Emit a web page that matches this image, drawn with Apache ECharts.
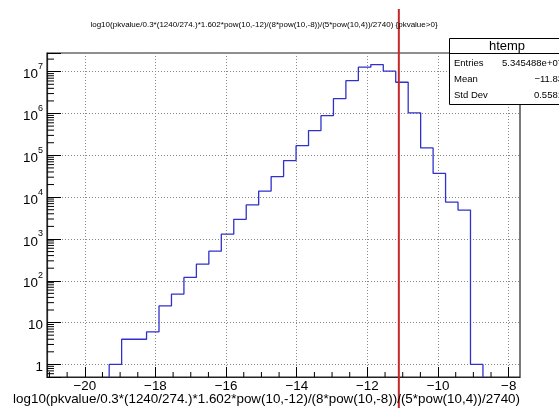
<!DOCTYPE html>
<html><head><meta charset="utf-8">
<script src="https://cdn.jsdelivr.net/npm/echarts@6/dist/echarts.min.js"></script>
<style>html,body{margin:0;padding:0;background:#fff}#c{width:559px;height:408px}</style>
</head><body><div id="c"></div>
<script>
const titleText = 'log10(pkvalue/0.3*(1240/274.)*1.602*pow(10,-12)/(8*pow(10,-8))/(5*pow(10,4))/2740) {pkvalue>0}';
const xAxisTitle = 'log10(pkvalue/0.3*(1240/274.)*1.602*pow(10,-12)/(8*pow(10,-8))/(5*pow(10,4))/2740)';
const binLow = -19.31;
const binWidth = 0.3527;
const counts = [1, 4, 4, 6, 25, 48, 120, 250, 510, 1300, 2950, 6500, 14000, 31000, 75000, 170000, 390000, 890000, 2260000, 6100000, 12800000, 14800000, 10300000, 5600000, 1040000, 150000, 37000, 7600, 4900, 1];
const xMajorTicks = [-20, -18, -16, -14, -12, -10, -8];
const xMinorTicks = [-21, -20.5, -19.5, -19, -18.5, -17.5, -17, -16.5, -15.5, -15, -14.5, -13.5, -13, -12.5, -11.5, -11, -10.5, -9.5, -9, -8.5];
const yMinorTicks = [0.6, 0.7, 0.8, 0.9, 2, 3, 4, 5, 6, 7, 8, 9, 20, 30, 40, 50, 60, 70, 80, 90, 200, 300, 400, 500, 600, 700, 800, 900, 2000, 3000, 4000, 5000, 6000, 7000, 8000, 9000, 20000, 30000, 40000, 50000, 60000, 70000, 80000, 90000, 200000, 300000, 400000, 500000, 600000, 700000, 800000, 900000, 2000000, 3000000, 4000000, 5000000, 6000000, 7000000, 8000000, 9000000, 20000000];
const cutValue = -11.11;
const statsTitle = 'htemp';
const statsNames = ['Entries', 'Mean', 'Std Dev'];
const statsValues = ['5.345488e+07', '\u221211.83', '0.5581'];
const xRange = [-21.07, -7.68];
const yRange = [0.5, 2.8e7];

const FONT = 'Liberation Sans, Arial, Helvetica, sans-serif';

const histPoints = [[binLow, yRange[0]]];
counts.forEach((c, i) => histPoints.push([binLow + i * binWidth, c]));
histPoints.push([binLow + counts.length * binWidth, counts[counts.length - 1]]);
histPoints.push([binLow + counts.length * binWidth, yRange[0]]);

const chart = echarts.init(document.getElementById('c'), null, {renderer: 'canvas'});
chart.setOption({
  animation: false,
  backgroundColor: '#fff',
  grid: {left: 47, right: 39, top: 53, bottom: 31, show: true, borderColor: '#222', borderWidth: 1.2, backgroundColor: 'transparent'},
  xAxis: {
    type: 'value', min: xRange[0], max: xRange[1],
    axisLine: {show: true, onZero: false, lineStyle: {color: '#222', width: 1.2}},
    axisTick: {show: true, inside: true, length: 10, customValues: xMajorTicks, lineStyle: {color: '#000'}},
    axisLabel: {customValues: xMajorTicks, margin: 3, fontSize: 13.4, fontFamily: FONT, color: '#000',
      formatter: v => (v < 0 ? '\u2212' : '') + Math.abs(v)},
    splitLine: {show: true, lineStyle: {color: '#888', type: [1, 2], width: 1}}
  },
  yAxis: {
    type: 'log', logBase: 10, min: yRange[0], max: yRange[1],
    axisLine: {show: true, lineStyle: {color: '#222', width: 1.2}},
    axisTick: {show: true, inside: true, length: 14, lineStyle: {color: '#000'}},
    axisLabel: {margin: 4, fontFamily: FONT, color: '#000',
      formatter: v => {
        const lg = Math.log10(v); const l = Math.round(lg);
        if (Math.abs(lg - l) > 1e-6) return '';
        if (l === 0) return '{b|1}';
        if (l === 1) return '{b|10}';
        return '{b|10}{s|' + l + '}';
      },
      rich: {
        b: {fontSize: 13.4, fontFamily: FONT, color: '#000', lineHeight: 19, verticalAlign: 'bottom'},
        s: {fontSize: 9, fontFamily: FONT, color: '#000', lineHeight: 10, verticalAlign: 'top'}
      }
    },
    splitLine: {show: true, lineStyle: {color: '#888', type: [1, 2], width: 1}}
  },
  series: [
    {
      type: 'line', step: 'end', data: histPoints, symbol: 'none', clip: true,
      lineStyle: {color: '#3030cc', width: 1.3}, z: 3
    },
    {
      type: 'custom', data: xMinorTicks.map(v => [v, yRange[0]]), z: 4,
      renderItem: (params, api) => {
        const p = api.coord([api.value(0), yRange[0]]);
        return {type: 'line', shape: {x1: p[0], y1: p[1], x2: p[0], y2: p[1] - 5}, style: {stroke: '#000', lineWidth: 1}};
      }
    },
    {
      type: 'custom', data: yMinorTicks.map(v => [xRange[0], v]), z: 4,
      renderItem: (params, api) => {
        const p = api.coord([xRange[0], api.value(1)]);
        return {type: 'line', shape: {x1: p[0], y1: p[1], x2: p[0] + 7, y2: p[1]}, style: {stroke: '#000', lineWidth: 1}};
      }
    },
    {
      type: 'custom', data: [[cutValue, yRange[1]]], z: 10, clip: false,
      renderItem: (params, api) => {
        const p = api.coord([api.value(0), yRange[1]]);
        return {type: 'line', shape: {x1: p[0], y1: 9, x2: p[0], y2: 408}, style: {stroke: '#c62828', lineWidth: 2}};
      }
    }
  ],
  graphic: [
    {type: 'text', x: 264, y: 25, z: 20, style: {text: titleText, font: '8px ' + FONT, fill: '#000', align: 'center', verticalAlign: 'middle'}},
    {type: 'text', x: 520, y: 399, z: 20, style: {text: xAxisTitle, font: '13.4px ' + FONT, fill: '#000', align: 'right', verticalAlign: 'middle'}},
    {type: 'rect', z: 30, shape: {x: 449.5, y: 38.5, width: 130, height: 66}, style: {fill: '#fff', stroke: '#000', lineWidth: 1}},
    {type: 'line', z: 31, shape: {x1: 449.5, y1: 53.5, x2: 580, y2: 53.5}, style: {stroke: '#000', lineWidth: 1}},
    {type: 'text', z: 32, x: 507, y: 46, style: {text: statsTitle, font: '13px ' + FONT, fill: '#000', align: 'center', verticalAlign: 'middle'}},
    {type: 'text', z: 32, x: 454, y: 63, style: {text: statsNames[0], font: '9.5px ' + FONT, fill: '#000', align: 'left', verticalAlign: 'middle'}},
    {type: 'text', z: 32, x: 454, y: 79, style: {text: statsNames[1], font: '9.5px ' + FONT, fill: '#000', align: 'left', verticalAlign: 'middle'}},
    {type: 'text', z: 32, x: 454, y: 95, style: {text: statsNames[2], font: '9.5px ' + FONT, fill: '#000', align: 'left', verticalAlign: 'middle'}},
    {type: 'text', z: 32, x: 563, y: 63, style: {text: statsValues[0], font: '9.5px ' + FONT, fill: '#000', align: 'right', verticalAlign: 'middle'}},
    {type: 'text', z: 32, x: 563, y: 79, style: {text: statsValues[1], font: '9.5px ' + FONT, fill: '#000', align: 'right', verticalAlign: 'middle'}},
    {type: 'text', z: 32, x: 563, y: 95, style: {text: statsValues[2], font: '9.5px ' + FONT, fill: '#000', align: 'right', verticalAlign: 'middle'}}
  ]
});
</script></body></html>
